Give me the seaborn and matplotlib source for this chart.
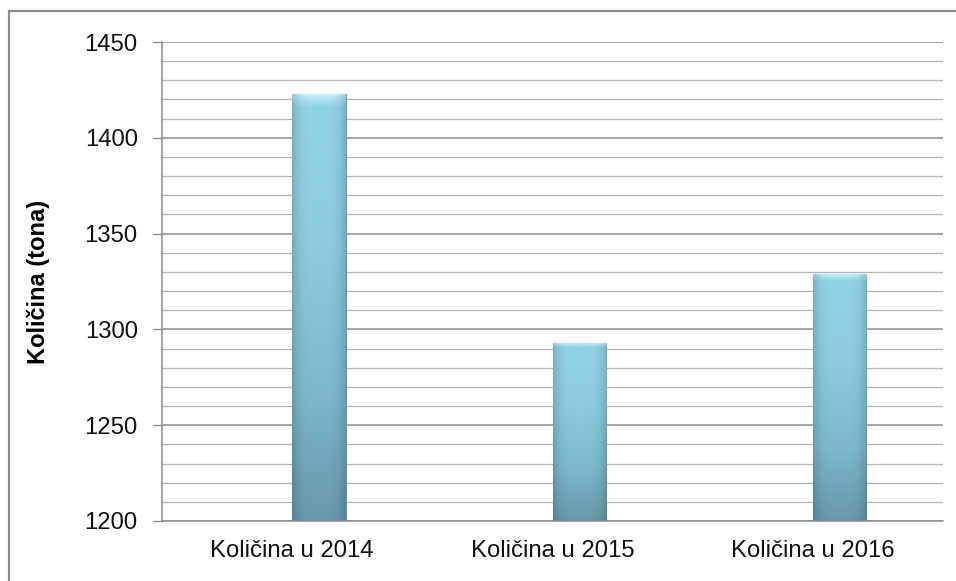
import numpy as np
import pandas as pd
import matplotlib.pyplot as plt
import matplotlib.patches as mpatches
from matplotlib.ticker import MultipleLocator
from matplotlib.colors import LinearSegmentedColormap
import seaborn as sns

categories = ["Količina u 2014", "Količina u 2015", "Količina u 2016"]
values = [1423, 1293, 1329]
series = ["Količina", "Količina", "Količina"]
ylabel = "Količina (tona)"

df = pd.DataFrame({"kat": categories, "kol": values, "serija": series})

sns.set_theme(style="white")
plt.rcParams["font.family"] = ["Liberation Sans", "DejaVu Sans"]

fig = plt.figure(figsize=(9.56, 5.81), dpi=100)
ax = fig.add_axes([0.1695, 0.1033, 0.8169, 0.8244])

# Excel-style clustered chart: an empty first series keeps the bar shifted right
sns.barplot(data=df, x="kat", y="kol", hue="serija", hue_order=["_prazno", "Količina"],
            palette={"_prazno": "#8ecfe3", "Količina": "#8ecfe3"}, width=0.41,
            dodge=True, legend=False, ax=ax, edgecolor="#6f98a6", linewidth=0.8)

ax.set_ylim(1200, 1450)
ax.set_xlim(-0.5, 2.5)
ax.yaxis.set_major_locator(MultipleLocator(50))
ax.yaxis.set_minor_locator(MultipleLocator(10))
ax.grid(True, which="major", axis="y", color="#8c8c8c", lw=1.1, zorder=0)
ax.grid(True, which="minor", axis="y", color="#b4b4b4", lw=0.9, zorder=0)
ax.set_axisbelow(True)

# vertical gradient inside each bar, darker at the base, light bevel on top
cmap = LinearSegmentedColormap.from_list(
    "bar", [(0, "#6698a9"), (0.3, "#7db9cc"), (0.65, "#8acbdf"), (0.97, "#90d2e6"), (1, "#c4f0fa")])
grad = np.linspace(0, 1, 256).reshape(-1, 1)
shade = 1 - 0.16 * np.abs(np.linspace(-1, 1, 64)) ** 4
for p in list(ax.patches):
    if p.get_height() <= 0 or np.isnan(p.get_height()):
        continue
    x0, w = p.get_x(), p.get_width()
    top = p.get_y() + p.get_height()
    rgb = cmap(grad)[:, :, :3] * shade[None, :, None]
    im = ax.imshow(rgb, extent=[x0, x0 + w, 1200, top], origin="lower",
                   aspect="auto", zorder=p.get_zorder() + 0.1, interpolation="bilinear")
    im.set_clip_path(p)
ax.set_xlim(-0.5, 2.5)
ax.set_ylim(1200, 1450)

for s in ("top", "right"):
    ax.spines[s].set_visible(False)
for s in ("left", "bottom"):
    ax.spines[s].set_color("#8c8c8c")
    ax.spines[s].set_linewidth(1.1)

ax.tick_params(axis="y", which="major", length=6.5, width=1, color="#8c8c8c",
               direction="out", left=True, pad=11, labelsize=17.2, labelcolor="#111111")
ax.tick_params(axis="y", which="minor", length=0)
ax.tick_params(axis="x", length=0, pad=14, labelsize=17.2, labelcolor="#111111")

ax.set_xlabel("")
ax.set_ylabel(ylabel, fontsize=17, fontweight="bold", color="black")
ax.yaxis.set_label_coords(-0.143, 0.5)

# outer chart frame
fig.patches.append(mpatches.Rectangle((9 / 956, -0.05), 1.1, 1 - 11 / 581 + 0.05,
                                      transform=fig.transFigure, fill=False,
                                      edgecolor="#8c8c8c", lw=1.6, zorder=-1))

fig.savefig("out.png", dpi=100)
